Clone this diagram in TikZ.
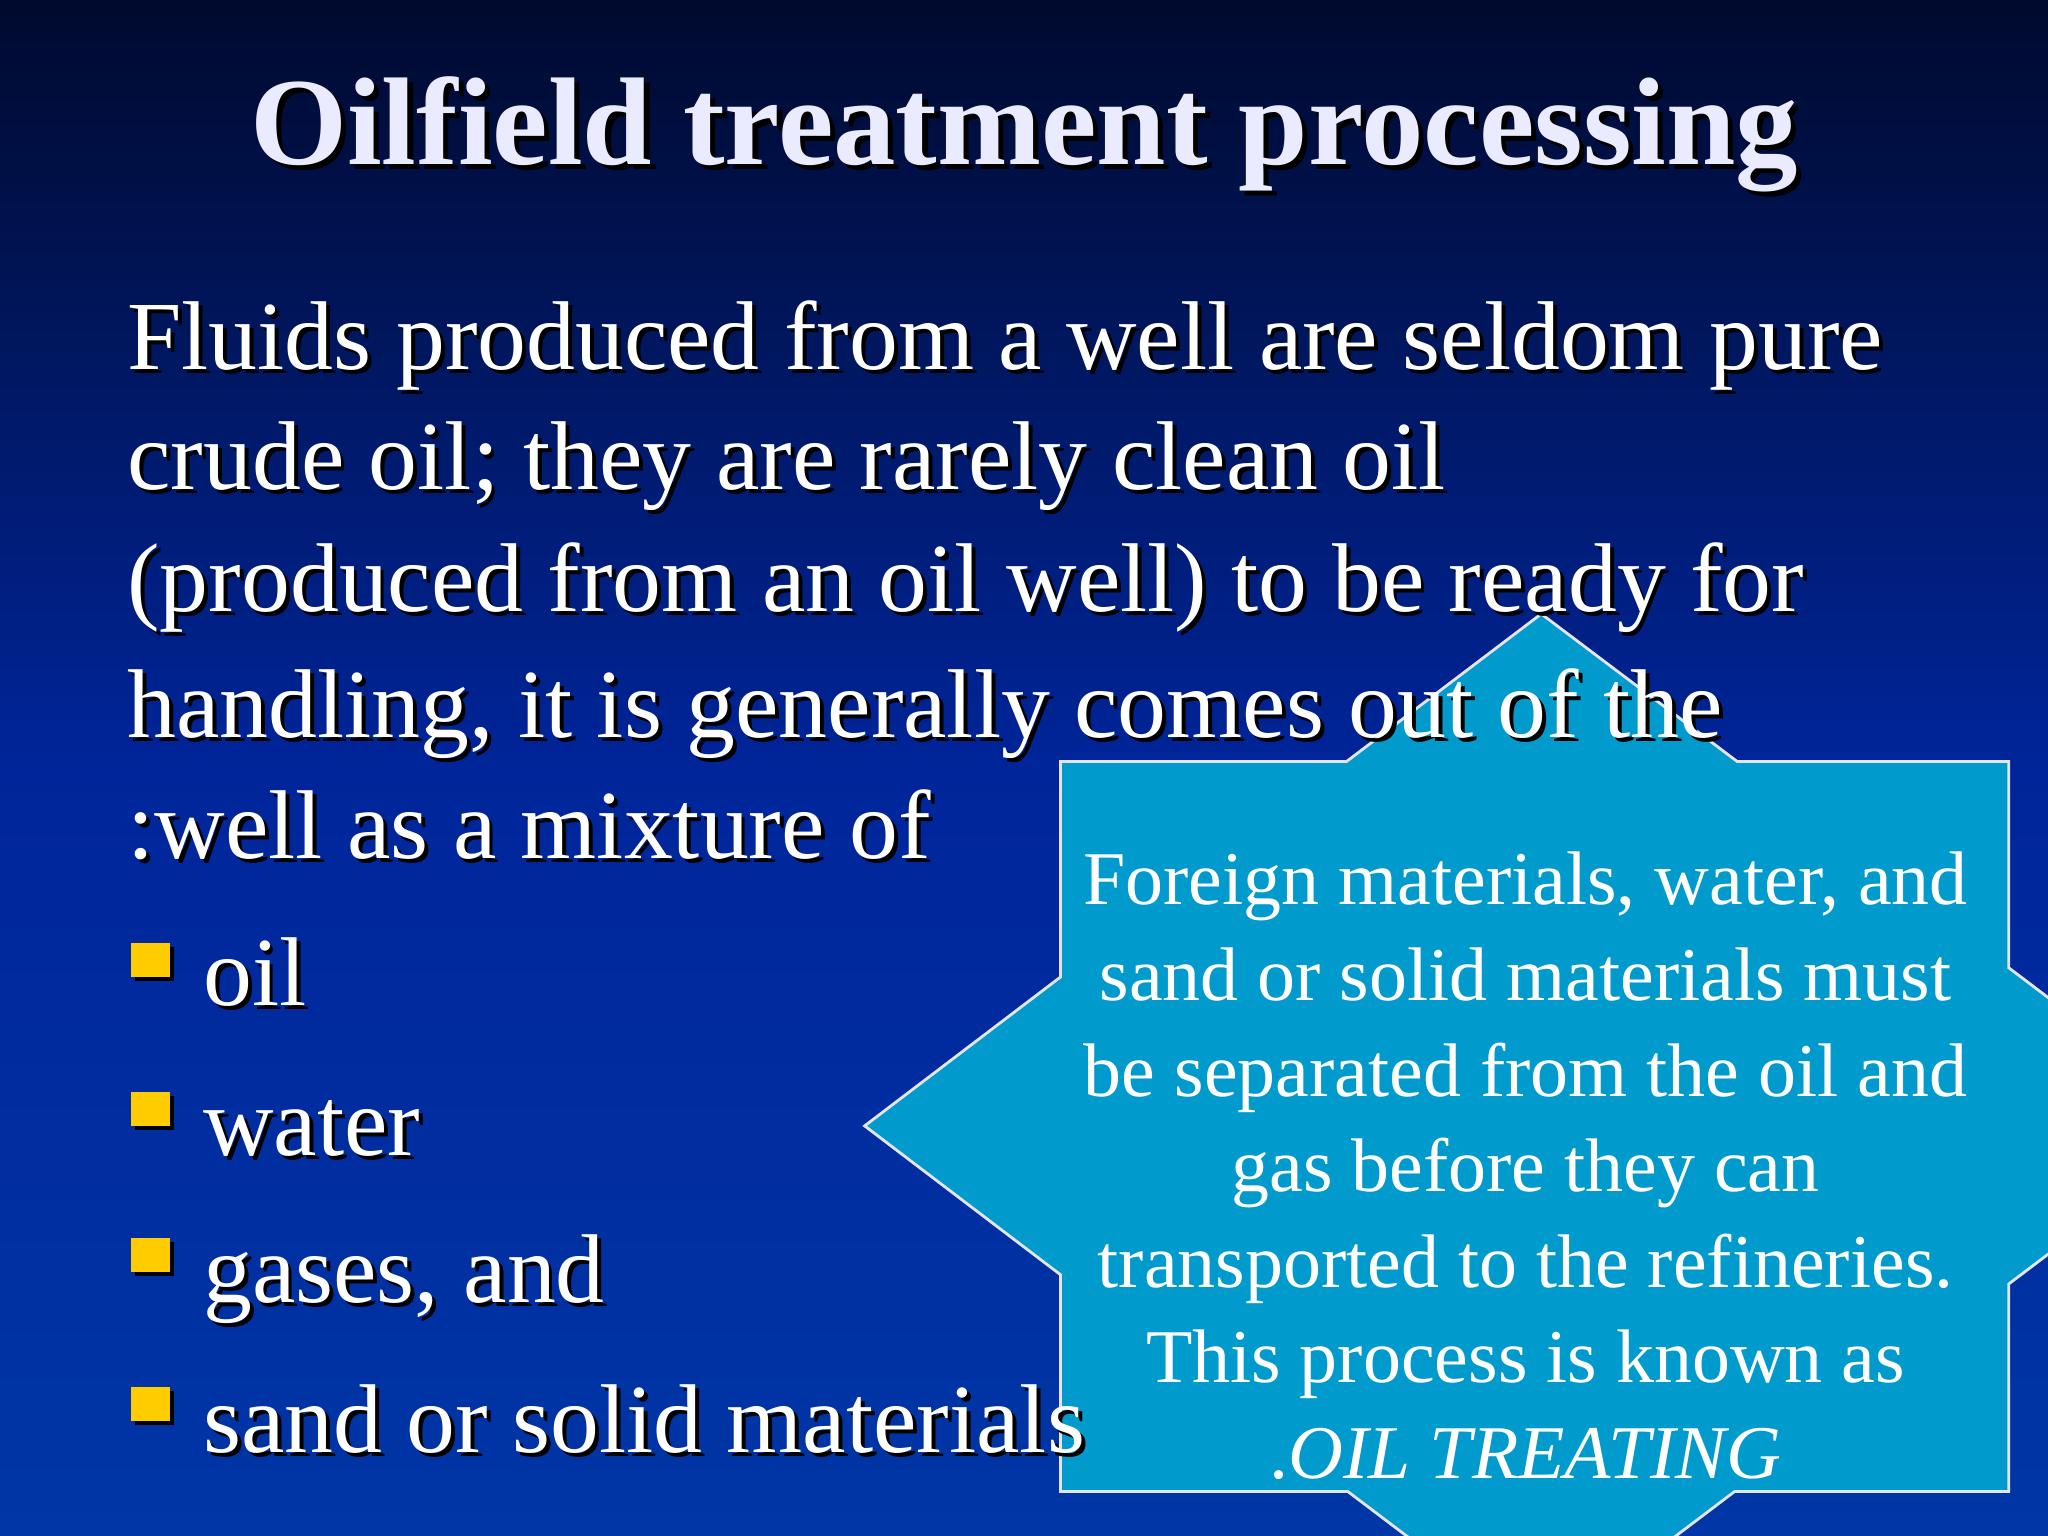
\documentclass[tikz,border=0pt]{standalone}
\usepackage{fontspec}
\setmainfont{Liberation Serif}
\newcommand\shtxt[3]{\node[anchor=base west,text=black] at ($(#1)+(3,3)$) {#3};\node[anchor=base west,text=white] (#2) at (#1) {#3};}
\usetikzlibrary{calc}
\definecolor{bgtop}{HTML}{000A2E}
\definecolor{bgmid}{HTML}{00259A}
\definecolor{bgbot}{HTML}{0036A6}
\definecolor{starfill}{HTML}{009ACD}
\definecolor{bul}{HTML}{FFCC00}
\begin{document}
\begin{tikzpicture}[x=0.013061cm,y=-0.013061cm,inner sep=0pt,
 body/.style={font=\fontsize{27.8}{30}\selectfont},
 startxt/.style={font=\fontsize{21.6}{27.2}\selectfont,text=white,align=center}]
\useasboundingbox (0,0) rectangle (1568,1176);
\shade[top color=bgtop,bottom color=bgbot,middle color=bgmid] (0,0) rectangle (1568,1176);
\begin{scope}
\clip (0,0) rectangle (1568,1176);
\draw[fill=starfill,draw=white!80!gray,line width=0.8pt] (1180,470)--(1330,583)--(1538,583)--(1538,741)--(1698,862)--(1538,983)--(1538,1142)--(1328,1142)--(1180,1254)--(1032,1142)--(812,1142)--(812,976)--(662,862)--(812,748)--(812,583)--(1031,583)--cycle;
\end{scope}
\node[font=\fontsize{35.5}{40}\bfseries,text=black,anchor=base] at (788,130) {Oilfield treatment processing};
\node[font=\fontsize{35.5}{40}\bfseries,text=white!92!blue,anchor=base] (title) at (784,126) {Oilfield treatment processing};
\begin{scope}[body]
\shtxt{97,283}{l1}{Fluids produced from a well are seldom pure}
\shtxt{97,375}{l2}{crude oil; they are rarely clean oil}
\shtxt{97,468}{l3}{(produced from an oil well) to be ready for}
\shtxt{97,565}{l4}{handling, it is generally comes out of the}
\shtxt{97,657}{l5}{:well as a mixture of}
\shtxt{155,770}{b1}{oil}
\shtxt{155,885}{b2}{water}
\shtxt{155,997}{b3}{gases, and}
\shtxt{155,1112}{b4}{sand or solid materials}
\end{scope}
\foreach \yy/\nm in {722/q1,836/q2,948/q3,1062/q4}{
 \fill[black] (103,\yy+3) rectangle ++(30,26);
 \fill[bul] (100,\yy) rectangle ++(30,26);}
\node[startxt,anchor=north] (st) at (1168,652) {Foreign materials, water, and\\sand or solid materials must\\be separated from the oil and\\gas before they can\\transported to the refineries.\\This process is known as\\.\textit{OIL TREATING}};
\end{tikzpicture}
\end{document}
